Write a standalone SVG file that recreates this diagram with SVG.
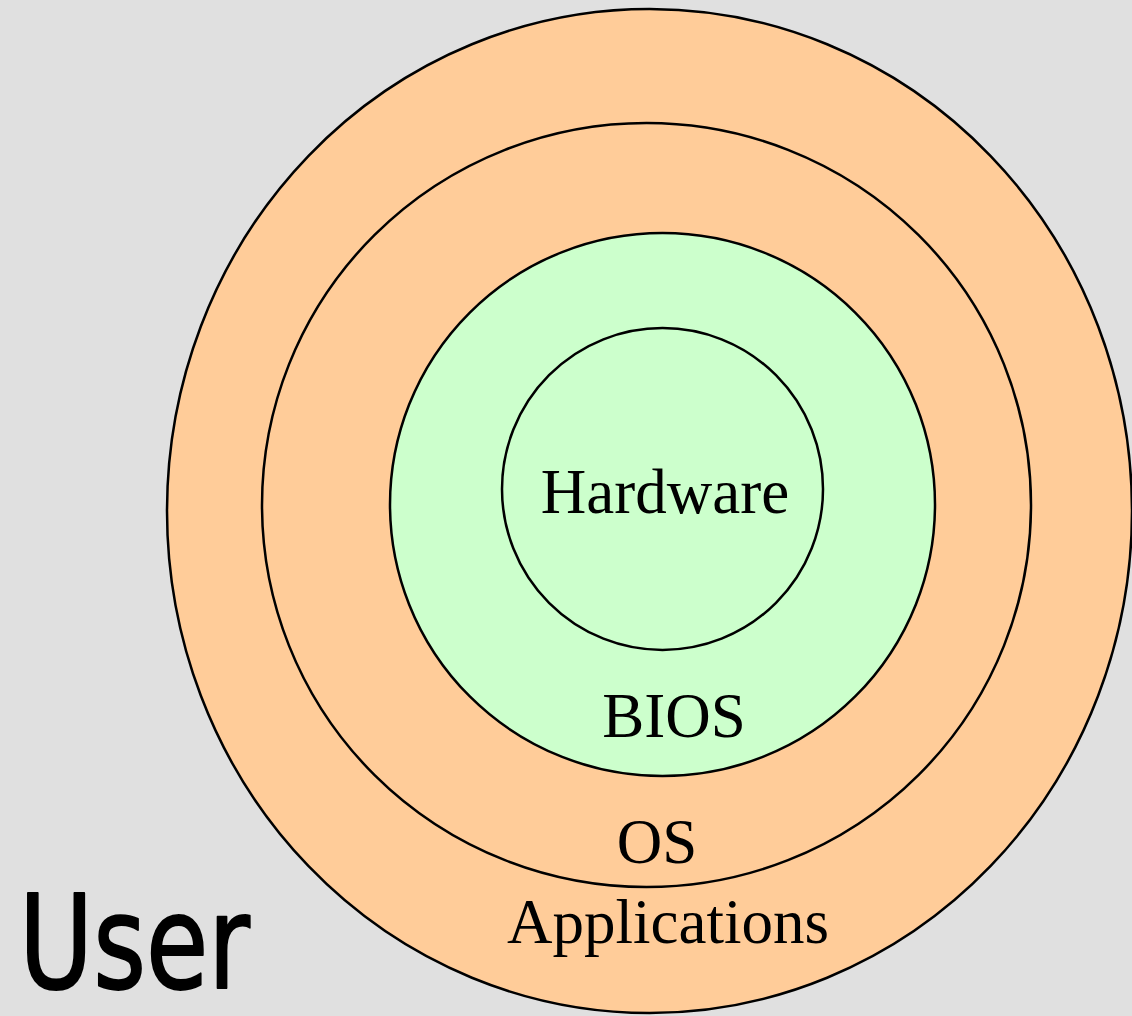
<svg xmlns="http://www.w3.org/2000/svg" width="1132" height="1016" viewBox="0 0 1132 1016">
<style>
.ring{stroke:#000;stroke-width:2.5}
.orange{fill:#ffcc99}
.green{fill:#ccffcc}
.lbl{font-family:"Liberation Serif","Times New Roman",serif;font-size:63px;fill:#000;text-anchor:middle}
.user{font-family:"DejaVu Sans",sans-serif;font-size:130px;fill:#000;stroke:#000;stroke-width:2;stroke-linejoin:round}
</style>
<rect x="0" y="0" width="1132" height="1016" fill="#e0e0e0"/>
<g id="applications">
<ellipse class="ring orange" cx="649.5" cy="511" rx="482.5" ry="502"/>
</g>
<g id="os">
<ellipse class="ring orange" cx="646.5" cy="505" rx="384.5" ry="382"/>
</g>
<g id="bios">
<ellipse class="ring green" cx="662.5" cy="504.5" rx="272.5" ry="271.5"/>
</g>
<g id="hardware">
<ellipse class="ring green" cx="662.5" cy="489" rx="160.5" ry="161"/>
<text class="lbl" x="665" y="513">Hardware</text>
</g>
<g id="labels">
<text class="lbl" x="674" y="737">BIOS</text>
<text class="lbl" x="657" y="863">OS</text>
<text class="lbl" x="668" y="943">Applications</text>
</g>
<g id="user">
<text class="user" x="19" y="988" textLength="231" lengthAdjust="spacingAndGlyphs">User</text>
</g>
<g id="connectors"></g>
</svg>
